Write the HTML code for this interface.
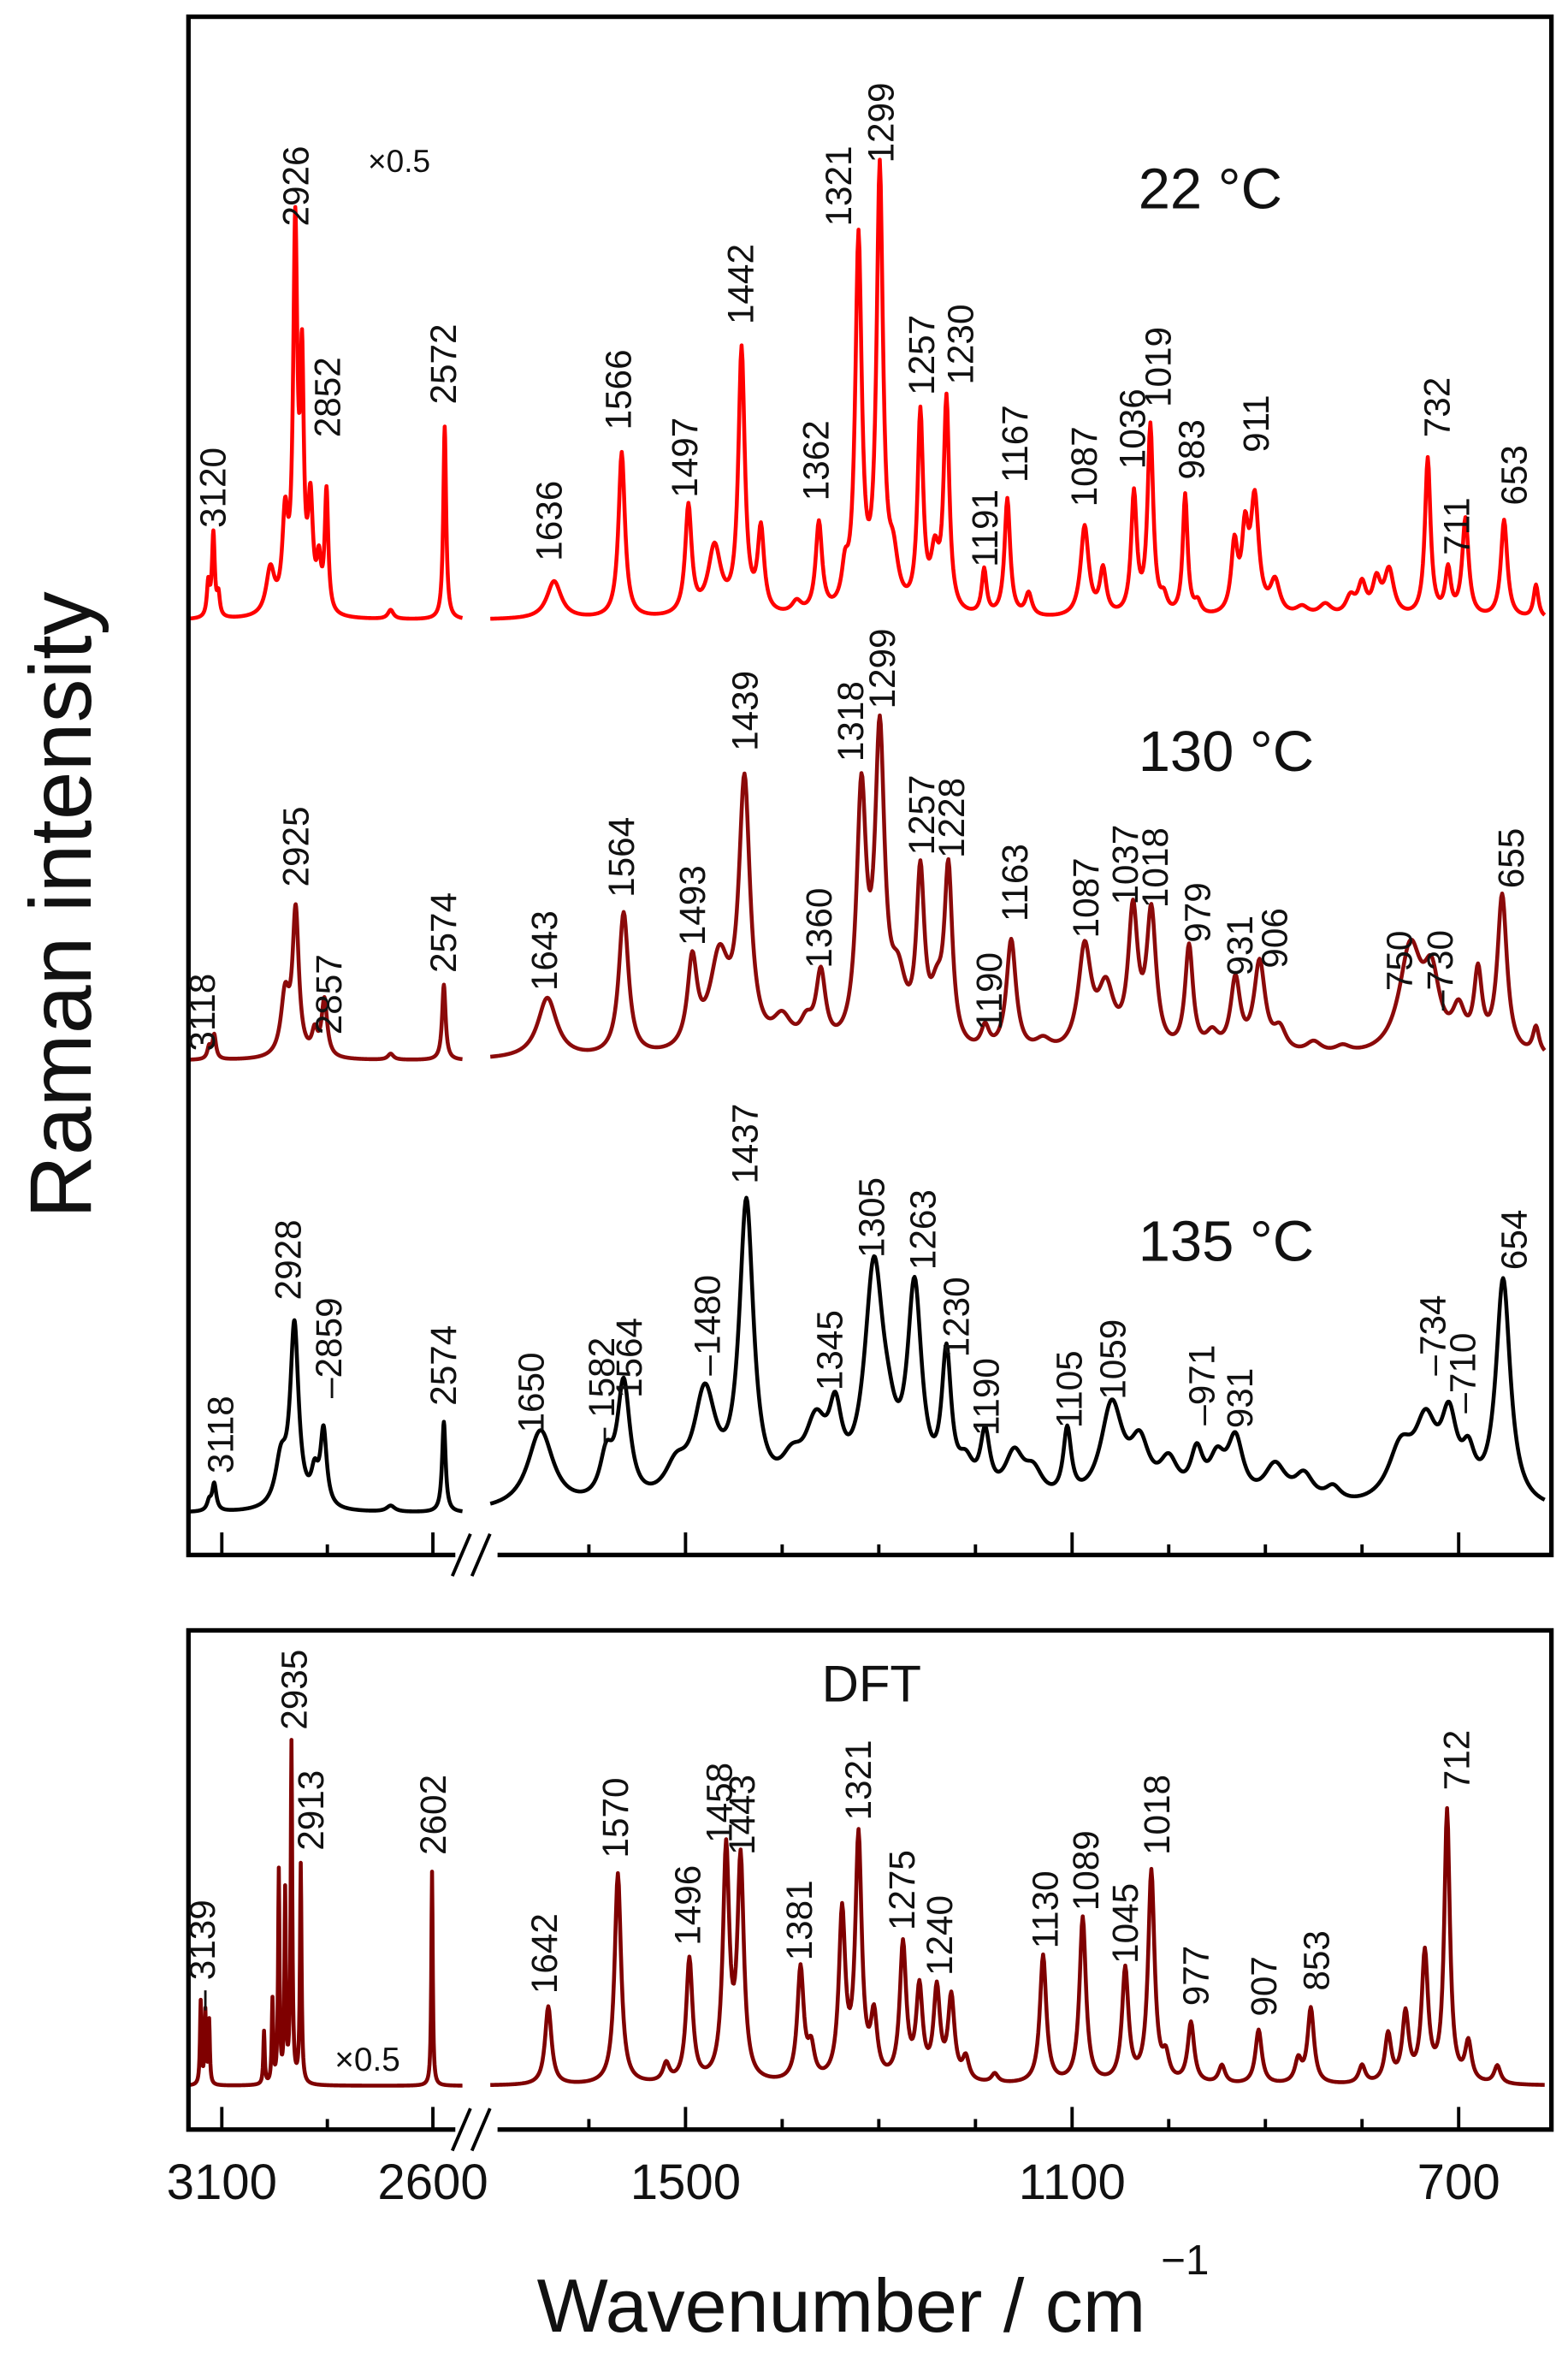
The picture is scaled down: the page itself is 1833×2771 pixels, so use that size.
<!DOCTYPE html>
<html><head><meta charset="utf-8"><style>
html,body{margin:0;padding:0;background:#fff;}
svg{display:block;}
text{font-family:"Liberation Sans",Arial,sans-serif;fill:#111;}
</style></head><body>
<svg id="s" width="1833" height="2771" viewBox="0 0 1040 1572" xmlns="http://www.w3.org/2000/svg">
<g id="g"></g>
</svg>
<script>
var NS="http://www.w3.org/2000/svg",G=document.getElementById('g');
function el(t,a,txt){var e=document.createElementNS(NS,t);for(var k in a)e.setAttribute(k,a[k]);if(txt!==undefined)e.textContent=txt;G.appendChild(e);return e;}
function X(w){return w>=2400?125+(3179-w)*0.28:322+(1707-w)*0.641;}
function spec(base,peaks,gl,gr,col,sw,bg){
  var segs=[[3176,2530],[1702,611]];
  segs.forEach(function(sg,i){
    var d="";
    for(var w=sg[0];w>=sg[1];w-=1){
      var y=base;
      peaks.forEach(function(p){
        var g=p[2]||(w>2400?gl:gr);
        if((p[0]>2400)!=(w>2400))return;
        y-=p[1]*g*g/((w-p[0])*(w-p[0])+g*g);
      });
      if(bg)y-=bg(w);
      d+=(d?"L":"M")+X(w).toFixed(2)+" "+y.toFixed(2);
    }
    el('path',{d:d,fill:'none',stroke:col,'stroke-width':sw,'stroke-linejoin':'round'});
  });
}
// 22 C
spec(411,[[3132,22,4],[3120,55,4],[3108,14,4],[2985,30,12],[2950,60,8],[2926,250,6],[2910,150,5],[2890,70,7],[2852,80,5],[2870,30,6],[2700,6,8],[2572,128,4],
[1636,25,9],[1566,110,4],[1497,72,4],[1470,45,8],[1442,175,4],[1422,55,4],[1385,8,6],[1362,60,4],[1335,22,4],[1321,245,4],[1299,290,4],[1285,30,6],[1257,130,3.5],[1242,35,5],[1230,140,3.5],[1191,30,3],[1167,78,3.5],[1145,15,4],
[1087,60,5],[1068,30,4],[1036,80,3.5],[1019,125,3.5],[1005,10,4],[983,80,3],[970,8,4],[932,45,4],[921,50,4],[911,75,5],[890,22,6],[862,6,8],[838,8,8],[812,12,6],[800,20,5],[785,22,5],[772,30,6],[732,105,3.5],[711,30,3.5],[693,65,4],[653,65,4],[620,22,3]],6,4,'#ff0000',2.6);
// 130 C
spec(703,[[3130,8,5],[3118,16,5],[2950,40,12],[2925,95,9],[2880,15,8],[2857,38,8],[2700,4,8],[2574,50,5],
[1643,40,12],[1564,95,6],[1493,58,6],[1465,60,12],[1439,175,7],[1400,20,12],[1375,15,8],[1360,48,6],[1318,165,6],[1299,200,6],[1280,40,10],[1257,110,5],[1240,30,8],[1228,115,5],[1190,15,5],[1163,75,6],[1130,8,10],
[1087,68,8],[1065,40,10],[1037,90,6],[1018,90,6],[979,70,5],[955,12,8],[931,48,6],[906,60,7],[885,15,8],[850,8,10],[820,5,10],[750,70,14],[728,45,10],[700,25,8],[680,50,5],[655,105,6],[620,18,4]],8,6,'#8b0a0a',2.6);
// 135 C
spec(1003,[[3130,6,6],[3118,18,6],[2960,30,16],[2928,120,12],[2880,20,10],[2859,50,9],[2700,4,12],[2574,60,5],
[1650,52,16],[1582,28,8],[1564,78,8],[1510,20,14],[1480,70,14],[1437,195,9],[1390,20,14],[1365,45,14],[1345,45,8],[1305,150,12],[1290,20,10],[1263,135,9],[1230,90,6],[1210,20,10],[1190,40,6],[1160,30,12],[1140,18,12],
[1105,45,5],[1059,65,14],[1030,35,12],[1000,25,12],[971,30,8],[950,25,10],[931,40,10],[890,25,14],[860,18,12],[830,10,10],[760,35,16],[734,48,14],[710,50,10],[690,25,8],[654,150,9]],10,12,'#000',2.6);
// DFT
spec(1383,[[3150,55,2],[3139,48,2],[3130,42,2],[3000,35,2],[2980,55,2],[2965,140,2],[2950,125,2],[2935,225,2.2],[2913,145,2.2],[2602,142,2],
[1642,52,4],[1570,140,4],[1520,12,4],[1496,82,4],[1458,152,4],[1443,145,4],[1381,75,4],[1370,20,4],[1338,110,4],[1321,160,4],[1305,40,4],[1275,90,4],[1258,60,4],[1240,60,4],[1225,55,4],[1210,15,4],[1180,6,4],
[1130,85,4],[1089,110,4],[1045,75,4],[1018,140,4],[1003,15,4],[977,40,4],[945,12,4],[907,36,4],[866,15,4],[853,50,4],[800,12,4],[773,32,4],[755,45,4],[735,85,4],[712,180,3.5],[690,26,4],[660,12,4]],2,4,'#7f0000',2.6);

// frames
el('rect',{x:125,y:11,width:904,height:1020,fill:'none',stroke:'#000','stroke-width':3});
el('rect',{x:125,y:1081,width:904,height:331,fill:'none',stroke:'#000','stroke-width':3});
function ticks(yb){
  [[3100,15],[2850,7],[2600,15]].concat([1600,1500,1400,1300,1200,1100,1000,900,800,700].map(function(w){return [w,w%400==300?15:7];})).forEach(function(t){
    el('line',{x1:X(t[0]),x2:X(t[0]),y1:yb,y2:yb-t[1],stroke:'#000','stroke-width':2.2});});
  el('rect',{x:302,y:yb-4,width:28,height:8,fill:'#fff'});
  el('line',{x1:300,y1:yb+14,x2:312,y2:yb-14,stroke:'#000','stroke-width':2.2});
  el('line',{x1:313,y1:yb+14,x2:325,y2:yb-14,stroke:'#000','stroke-width':2.2});
}
ticks(1031);ticks(1412);
[[3100,'3100'],[2600,'2600'],[1500,'1500'],[1100,'1100'],[700,'700']].forEach(function(t){
  el('text',{x:X(t[0]),y:1458,'font-size':33,'text-anchor':'middle'},t[1]);});
el('text',{x:558,y:1546,'font-size':50,'text-anchor':'middle'},'Wavenumber / cm');
el('text',{x:770,y:1508,'font-size':28},'\u22121');
el('text',{x:0,y:0,'font-size':58,'text-anchor':'middle',transform:'translate(60,600) rotate(-90)'},'Raman intensity');

function lab(list,fs){list.forEach(function(l){
  el('text',{x:0,y:0,'font-size':fs||24,transform:'translate('+(l[0]+8.5)+','+l[1]+') rotate(-90)'},l[2]);});}
lab([[141,350,'3120'],[196,150,'2926'],[217,290,'2852'],[294,268,'2572'],[364,372,'1636'],[410,285,'1566'],[454,330,'1497'],[491,215,'1442'],[541,332,'1362'],[556,150,'1321'],[584,108,'1299'],[611,262,'1257'],[637,255,'1230'],[653,376,'1191'],[673,320,'1167'],[719,336,'1087'],[751,311,'1036'],[768,270,'1019'],[790,318,'983'],[833,300,'911'],[953,290,'732'],[966,368,'711'],[1004,335,'653'],
[134,697,'3118'],[196,588,'2925'],[218,686,'2857'],[294,645,'2574'],[361,657,'1643'],[412,595,'1564'],[459,627,'1493'],[494,498,'1439'],[543,642,'1360'],[564,505,'1318'],[585,470,'1299'],[611,567,'1257'],[631,569,'1228'],[656,683,'1190'],[673,611,'1163'],[720,622,'1087'],[746,600,'1037'],[766,602,'1018'],[794,625,'979'],[822,647,'931'],[845,642,'906'],[928,657,'750'],[955,670,'\u2013730'],[1002,589,'655'],
[146,977,'3118'],[191,862,'2928'],[218,927,'\u20132859'],[294,932,'2574'],[352,950,'1650'],[399,960,'\u2013 1582'],[417,927,'1564'],[469,912,'\u20131480'],[494,785,'1437'],[550,922,'1345'],[578,834,'1305'],[612,842,'1263'],[634,900,'1230'],[654,952,'1190'],[709,947,'1105'],[738,928,'1059'],[797,945,'\u2013971'],[822,947,'931'],[950,912,'\u2013734'],[970,937,'\u2013710'],[1004,842,'654'],
[134,1333,'\u2013  3139'],[195,1147,'2935'],[206,1227,'2913'],[287,1230,'2602'],[361,1322,'1642'],[408,1232,'1570'],[456,1290,'1496'],[477,1222,'1458'],[492,1230,'1443'],[530,1300,'1381'],[569,1207,'1321'],[598,1280,'1275'],[623,1310,'1240'],[693,1292,'1130'],[720,1267,'1089'],[746,1302,'1045'],[767,1230,'1018'],[793,1330,'977'],[838,1337,'907'],[873,1320,'853'],[966,1187,'712']]);
el('text',{x:755,y:138,'font-size':38},'22 \u00B0C');
el('text',{x:755,y:511,'font-size':38},'130 \u00B0C');
el('text',{x:755,y:836,'font-size':38},'135 \u00B0C');
el('text',{x:545,y:1128,'font-size':34},'DFT');
el('text',{x:244,y:114,'font-size':21},'\u00D70.5');
el('text',{x:222,y:1373,'font-size':22},'\u00D70.5');
</script>
</body></html>
